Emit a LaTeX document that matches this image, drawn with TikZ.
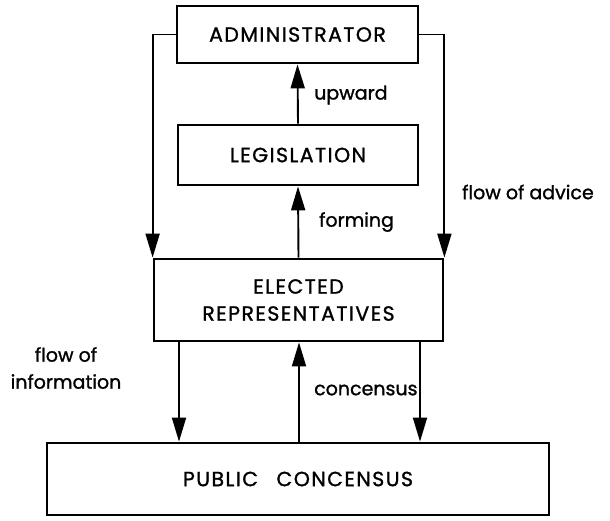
\documentclass[tikz,border=0pt]{standalone}
\usepackage{fontspec}
\setmainfont{Poppins}[FakeBold=1.2]
\newfontfamily\capfont{Poppins}[LetterSpace=7, FakeBold=1.2]
\usetikzlibrary{arrows.meta}
\begin{document}
\begin{tikzpicture}[x=1pt,y=-1pt,
  box/.style={draw, line width=2.8pt, inner sep=0pt, align=center,
    font=\capfont\fontsize{20.5}{27}\selectfont},
  conn/.style={line width=1.9pt, -{Triangle[length=24pt,width=14pt]}},
  lbl/.style={font=\fontsize{19}{27}\selectfont, inner sep=0pt}]
\useasboundingbox (0,0) rectangle (610,520);
\node[box, minimum width=241pt, minimum height=57pt] (adm) at (297.5,34.5) {ADMINISTRATOR};
\node[box, minimum width=240pt, minimum height=60pt] (leg) at (298,155) {LEGISLATION};
\node[box, minimum width=289pt, minimum height=82pt] (ele) at (298.5,300) {ELECTED\\REPRESENTATIVES};
\node[box, minimum width=502pt, minimum height=72pt] (pub) at (298,479) {PUBLIC\hspace{0.9em}CONCENSUS};
\coordinate (dl) at (179,0);
\coordinate (dm) at (299,0);
\coordinate (dr) at (420,0);
\draw[conn] (adm.west) -| (ele.north west);
\draw[conn] (adm.east) -| (ele.north east);
\draw[conn] (leg.north) -- (adm.south);
\draw[conn] (ele.north) -- (leg.south);
\draw[conn] (ele.south -| dl) -- (pub.north -| dl);
\draw[conn] (pub.north -| dm) -- (ele.south -| dm);
\draw[conn] (ele.south -| dr) -- (pub.north -| dr);
\node[lbl, anchor=west] (up) at (314,95) {upward};
\node[lbl, anchor=west] (fo) at (319,222) {forming};
\node[lbl, anchor=west] (adv) at (462,192) {flow of advice};
\node[lbl, align=center] (inf) at (66,368) {flow of\\information};
\node[lbl, anchor=west] (con) at (314,390) {concensus};
\end{tikzpicture}
\end{document}
